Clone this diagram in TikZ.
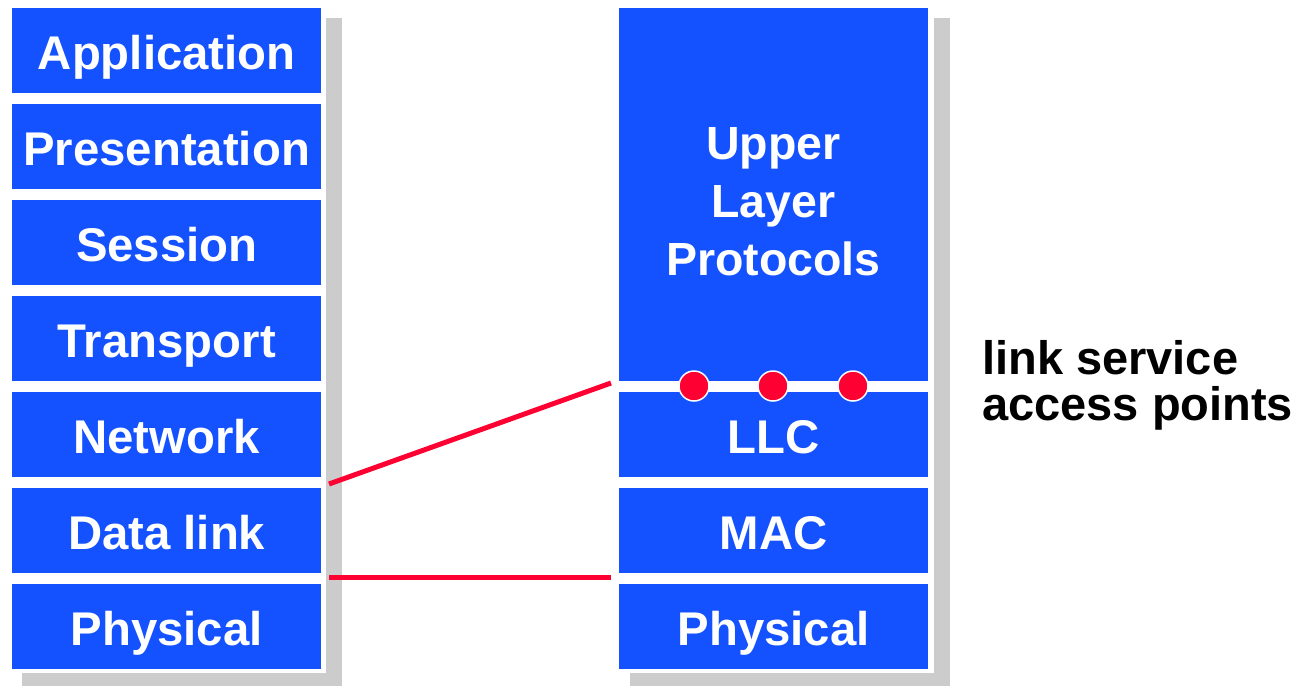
\documentclass[tikz,border=0pt]{standalone}
\usepackage{fontspec}
\setmainfont{Liberation Sans}
\definecolor{osiblue}{RGB}{20,82,255}
\definecolor{linkred}{RGB}{255,0,51}
\definecolor{shadowgray}{RGB}{204,204,204}
\begin{document}
\begin{tikzpicture}[x=1pt,y=-1pt,
  layerbox/.style={fill=osiblue, draw=none, inner sep=0pt, minimum width=309pt,
    minimum height=85pt, anchor=north west, text=white,
    font=\bfseries\fontsize{47.3}{57}\selectfont, text height=37pt, text depth=0pt},
  blankbox/.style={fill=osiblue, draw=none, inner sep=0pt, minimum width=309pt, anchor=north west},
  shadowrect/.style={fill=shadowgray, draw=none},
  backing/.style={fill=white, draw=none},
  sapdot/.style={circle, fill=linkred, draw=white, line width=1.5pt, minimum size=30pt, inner sep=0pt},
  redline/.style={draw=linkred, line width=5pt},
  bigtext/.style={inner sep=0pt, font=\bfseries\fontsize{46.5}{57.8}\selectfont}
]
\useasboundingbox (0,0) rectangle (1303,686);
\fill[white] (0,0) rectangle (1303,686);
% shadows and white backings
\fill[shadowrect] (22,18) rectangle (342,686);
\fill[backing] (6,3) rectangle (326,673);
\fill[shadowrect] (630,18) rectangle (950,686);
\fill[backing] (614,3) rectangle (934,673);
% left OSI stack
\node[layerbox] (lapp)   at (12,8)   {Application};
\node[layerbox] (lpres)  at (12,104) {Presentation};
\node[layerbox] (lsess)  at (12,200) {Session};
\node[layerbox] (ltrans) at (12,296) {Transport};
\node[layerbox] (lnet)   at (12,392) {Network};
\node[layerbox] (ldata)  at (12,488) {Data link};
\node[layerbox] (lphys)  at (12,584) {Physical};
% right IEEE 802 stack
\node[blankbox, minimum height=373pt] (rupper) at (619,8) {};
\node[bigtext, text=white, align=center] (uppertxt) at (773.5,201.5) {Upper\\Layer\\Protocols};
\node[layerbox] (rllc)  at (619,392) {LLC};
\node[layerbox] (rmac)  at (619,488) {MAC};
\node[layerbox] (rphys) at (619,584) {Physical};
% link service access points
\node[sapdot] (sap1) at (694,386) {};
\node[sapdot] (sap2) at (773,386) {};
\node[sapdot] (sap3) at (853,386) {};
% connectors
\coordinate (dlTop) at (329,484);
\coordinate (sapLeft) at (611,383);
\coordinate (dlBot) at (329,577.5);
\coordinate (physLeft) at (611,577.5);
\draw[redline] (dlTop) -- (sapLeft);
\draw[redline] (dlBot) -- (physLeft);
% label
\node[bigtext, font=\bfseries\fontsize{47}{46}\selectfont, align=left, anchor=west] (saplabel) at (982,385) {link service\\access points};
\end{tikzpicture}
\end{document}
